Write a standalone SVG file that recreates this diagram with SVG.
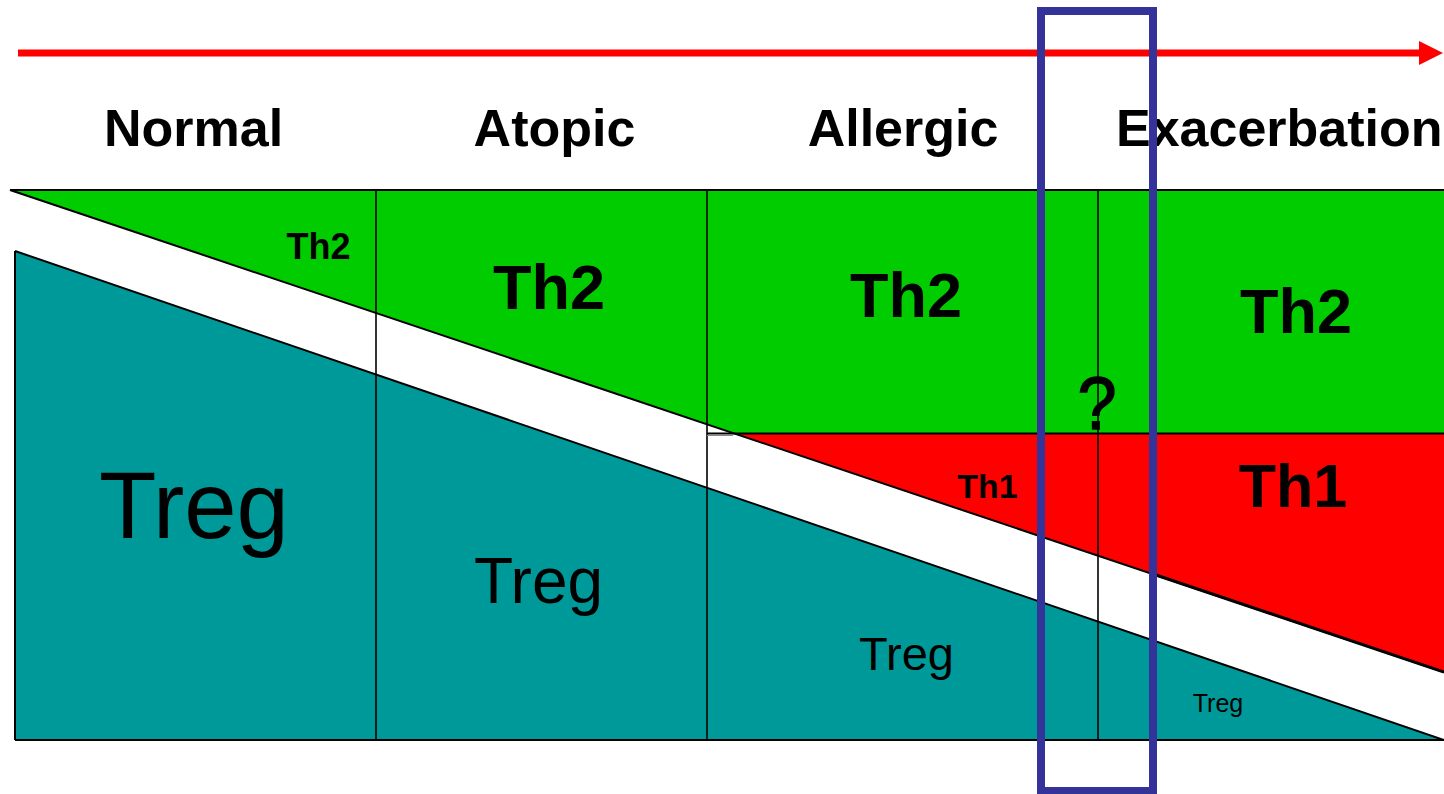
<svg xmlns="http://www.w3.org/2000/svg" width="1444" height="794" viewBox="0 0 1444 794">
<style>
.hdr{font-family:"Liberation Sans",Arial,sans-serif;font-weight:bold;font-size:52px;fill:#000}
.b{font-family:"Liberation Sans",Arial,sans-serif;font-weight:bold;fill:#000;text-anchor:middle}
.r{font-family:"Liberation Sans",Arial,sans-serif;fill:#000;text-anchor:middle}
.ln{stroke:#000;fill:none}
</style>
<defs>
<marker id="ah" viewBox="0 0 24 24" refX="0" refY="12" markerWidth="24" markerHeight="24" markerUnits="userSpaceOnUse" orient="auto">
<path d="M0,0 L24,12 L0,24 Z" fill="#FF0000"/>
</marker>
</defs>
<rect width="1444" height="794" fill="#fff"/>
<g id="treg">
<polygon points="15,251 1444,740 15,740" fill="#009999"/>
</g>
<g id="th2">
<polygon points="10,190 1444,190 1444,433 733,433" fill="#00CC00"/>
</g>
<g id="th1">
<polygon points="733,433 1444,433 1444,672" fill="#FF0000"/>
</g>
<g id="grid">
<line class="ln" x1="10" y1="190" x2="1444" y2="190" stroke-width="2"/>
<line class="ln" x1="15" y1="740" x2="1444" y2="740" stroke-width="2"/>
<line class="ln" x1="15" y1="251" x2="15" y2="740" stroke-width="2"/>
<line class="ln" x1="10" y1="190" x2="1444" y2="672" stroke-width="2"/>
<line class="ln" x1="1150" y1="573" x2="1444" y2="672" stroke-width="3"/>
<line class="ln" x1="15" y1="251" x2="1444" y2="740" stroke-width="2"/>
<line class="ln" x1="376" y1="190" x2="376" y2="740" stroke-width="1.6"/>
<line class="ln" x1="707" y1="190" x2="707" y2="740" stroke-width="1.6"/>
<line class="ln" x1="1098" y1="190" x2="1098" y2="740" stroke-width="1.6"/>
<line class="ln" x1="707" y1="433.5" x2="1444" y2="433.5" stroke-width="2"/>
<line x1="707" y1="435.5" x2="733" y2="435.5" stroke="#888" stroke-width="1"/>
</g>
<g id="connectors">
<line x1="18" y1="53" x2="1419" y2="53" stroke="#FF0000" stroke-width="7" marker-end="url(#ah)"/>
</g>
<g id="labels">
<text class="hdr" x="193.5" y="146" text-anchor="middle">Normal</text>
<text class="hdr" x="554.5" y="146" text-anchor="middle">Atopic</text>
<text class="hdr" x="903" y="146" text-anchor="middle">Allergic</text>
<text class="hdr" x="1116" y="146">Exacerbation</text>
</g>
<g id="th2-labels">
<text class="b" x="318.5" y="259" font-size="36">Th2</text>
<text class="b" x="549" y="309" font-size="63">Th2</text>
<text class="b" x="906" y="317" font-size="63">Th2</text>
<text class="b" x="1296" y="333" font-size="63">Th2</text>
</g>
<g id="th1-labels">
<text class="b" x="987.5" y="498" font-size="34">Th1</text>
<text class="b" x="1293" y="507" font-size="61">Th1</text>
</g>
<g id="treg-labels">
<text class="r" x="194" y="538" font-size="94">Treg</text>
<text class="r" x="538.5" y="603" font-size="64">Treg</text>
<text class="r" x="906.5" y="670" font-size="47">Treg</text>
<text class="r" x="1218" y="712" font-size="25">Treg</text>
</g>
<g id="question">
<text class="r" x="0" y="0" font-size="74" stroke="#000" stroke-width="1.5" transform="translate(1097,429) scale(0.95,1)">?</text>
</g>
<g id="highlight">
<rect x="1041" y="11" width="112" height="780" fill="none" stroke="#333399" stroke-width="8"/>
</g>
</svg>
